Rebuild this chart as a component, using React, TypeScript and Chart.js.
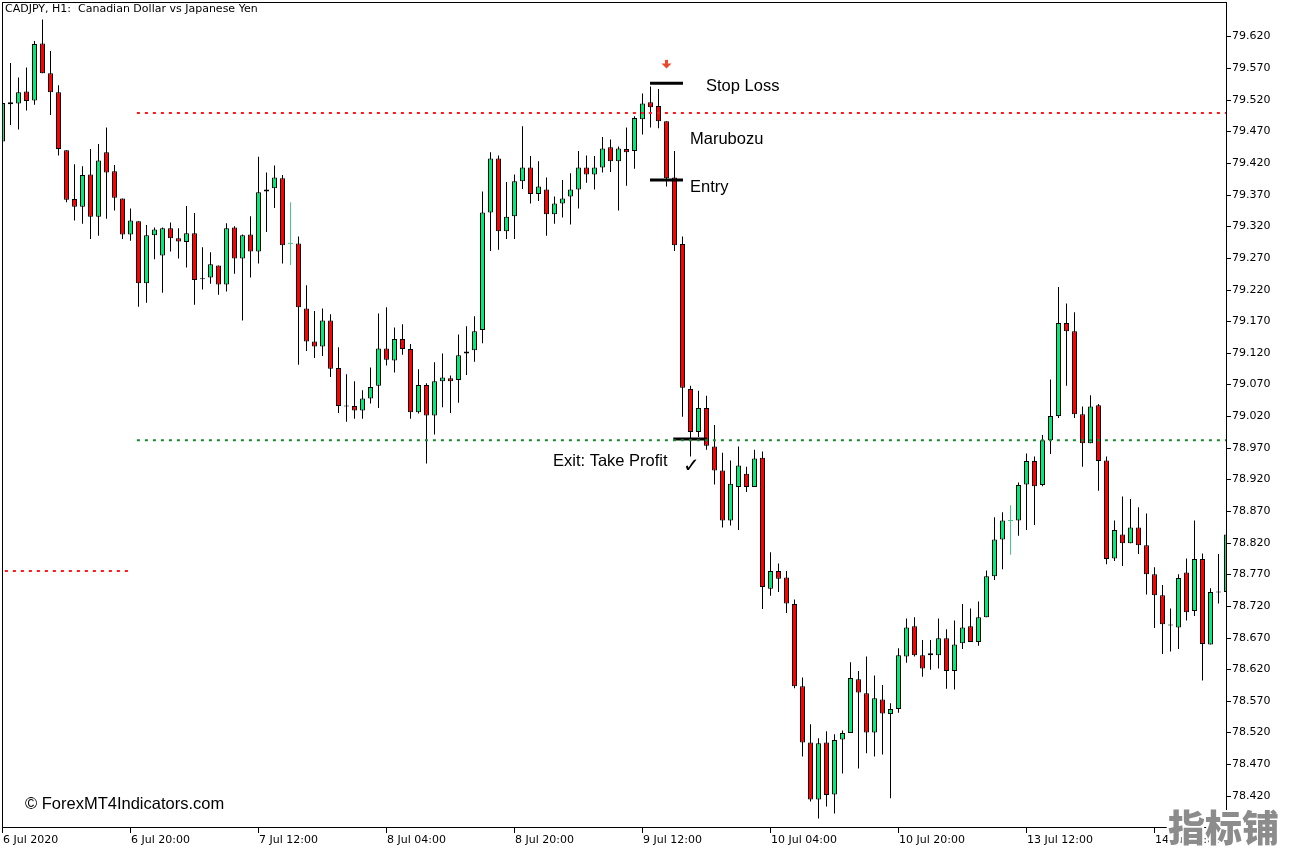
import React, { useEffect, useRef } from "react";
import { Chart, registerables } from "chart.js";

Chart.register(...registerables);

// ---- data (CADJPY H1 candles) ----
const OPEN = [
  79.454, 79.516, 79.514, 79.533, 79.519, 79.609, 79.562, 79.532, 79.440, 79.363,
  79.351, 79.402, 79.335, 79.437, 79.407, 79.364, 79.307, 79.328, 79.230, 79.306,
  79.274, 79.317, 79.301, 79.295, 79.309, 79.237, 79.239, 79.258, 79.228, 79.318,
  79.269, 79.307, 79.280, 79.375, 79.380, 79.396, 79.293, 79.293, 79.190, 79.138,
  79.130, 79.171, 79.096, 79.036, 79.036, 79.029, 79.048, 79.068, 79.127, 79.108,
  79.142, 79.126, 79.026, 79.069, 79.021, 79.075, 79.080, 79.077, 79.119, 79.124,
  79.156, 79.342, 79.427, 79.312, 79.336, 79.391, 79.413, 79.371, 79.378, 79.339,
  79.356, 79.367, 79.378, 79.413, 79.402, 79.413, 79.445, 79.423, 79.442, 79.439,
  79.489, 79.516, 79.510, 79.486, 79.397, 79.292, 79.063, 78.995, 79.033, 78.972,
  78.934, 78.855, 78.908, 78.929, 78.908, 78.954, 78.747, 78.775, 78.765, 78.723,
  78.593, 78.504, 78.414, 78.504, 78.422, 78.509, 78.519, 78.604, 78.582, 78.520,
  78.572, 78.549, 78.557, 78.640, 78.688, 78.642, 78.645, 78.642, 78.669, 78.617,
  78.661, 78.688, 78.663, 78.702, 78.767, 78.825, 78.855, 78.855, 78.912, 78.949,
  78.911, 78.982, 79.020, 79.167, 79.154, 79.023, 78.977, 79.037, 78.950, 78.795,
  78.833, 78.819, 78.844, 78.816, 78.770, 78.737, 78.690, 78.686, 78.773, 78.712,
  78.794, 78.659, 78.742, 78.742,
];
const HIGH = [
  79.519, 79.578, 79.555, 79.571, 79.613, 79.647, 79.597, 79.543, 79.440, 79.418,
  79.415, 79.442, 79.450, 79.476, 79.417, 79.364, 79.348, 79.328, 79.322, 79.318,
  79.318, 79.326, 79.317, 79.352, 79.341, 79.287, 79.279, 79.258, 79.325, 79.320,
  79.307, 79.336, 79.430, 79.405, 79.416, 79.401, 79.358, 79.304, 79.227, 79.186,
  79.190, 79.181, 79.129, 79.086, 79.075, 79.061, 79.097, 79.182, 79.192, 79.160,
  79.165, 79.134, 79.094, 79.072, 79.105, 79.119, 79.084, 79.149, 79.162, 79.178,
  79.375, 79.437, 79.432, 79.390, 79.402, 79.478, 79.431, 79.423, 79.397, 79.367,
  79.393, 79.404, 79.439, 79.432, 79.431, 79.461, 79.457, 79.446, 79.476, 79.494,
  79.530, 79.541, 79.537, 79.486, 79.439, 79.304, 79.068, 79.060, 79.052, 79.006,
  78.962, 78.950, 78.972, 78.940, 78.967, 78.964, 78.805, 78.787, 78.775, 78.730,
  78.607, 78.533, 78.511, 78.522, 78.517, 78.523, 78.631, 78.617, 78.640, 78.610,
  78.595, 78.566, 78.653, 78.700, 78.702, 78.666, 78.666, 78.700, 78.683, 78.697,
  78.723, 78.716, 78.727, 78.776, 78.860, 78.868, 78.879, 78.915, 78.961, 78.956,
  78.990, 79.078, 79.224, 79.198, 79.184, 79.035, 79.053, 79.039, 78.956, 78.855,
  78.893, 78.889, 78.876, 78.866, 78.781, 78.753, 78.716, 78.770, 78.795, 78.855,
  78.803, 78.748, 78.802, 78.836,
];
const LOW = [
  79.452, 79.480, 79.473, 79.503, 79.512, 79.562, 79.496, 79.432, 79.358, 79.329,
  79.324, 79.300, 79.305, 79.332, 79.345, 79.300, 79.297, 79.193, 79.199, 79.268,
  79.215, 79.280, 79.269, 79.255, 79.196, 79.220, 79.229, 79.212, 79.217, 79.245,
  79.171, 79.239, 79.261, 79.311, 79.349, 79.261, 79.259, 79.101, 79.123, 79.112,
  79.115, 79.082, 79.025, 79.011, 79.016, 79.016, 79.040, 79.033, 79.100, 79.089,
  79.117, 79.016, 79.024, 78.945, 78.991, 79.034, 79.025, 79.041, 79.085, 79.106,
  79.135, 79.281, 79.283, 79.300, 79.300, 79.379, 79.356, 79.360, 79.305, 79.324,
  79.334, 79.323, 79.348, 79.389, 79.378, 79.405, 79.406, 79.345, 79.384, 79.411,
  79.465, 79.476, 79.475, 79.383, 79.281, 79.019, 78.956, 78.987, 78.967, 78.912,
  78.844, 78.847, 78.840, 78.900, 78.908, 78.715, 78.736, 78.742, 78.709, 78.590,
  78.482, 78.411, 78.384, 78.403, 78.392, 78.455, 78.519, 78.463, 78.487, 78.482,
  78.485, 78.416, 78.551, 78.630, 78.640, 78.608, 78.619, 78.621, 78.589, 78.588,
  78.652, 78.663, 78.657, 78.702, 78.761, 78.778, 78.801, 78.831, 78.840, 78.848,
  78.909, 78.960, 79.017, 79.068, 79.017, 78.940, 78.977, 78.902, 78.786, 78.791,
  78.783, 78.819, 78.802, 78.738, 78.685, 78.644, 78.648, 78.652, 78.697, 78.704,
  78.602, 78.659, 78.724, 78.738,
];
const CLOSE = [
  79.515, 79.513, 79.532, 79.518, 79.608, 79.562, 79.532, 79.442, 79.362, 79.351,
  79.401, 79.335, 79.424, 79.405, 79.365, 79.307, 79.329, 79.230, 79.306, 79.315,
  79.317, 79.301, 79.296, 79.309, 79.235, 79.237, 79.260, 79.228, 79.317, 79.269,
  79.306, 79.280, 79.374, 79.378, 79.397, 79.290, 79.293, 79.192, 79.138, 79.130,
  79.171, 79.095, 79.036, 79.036, 79.029, 79.048, 79.066, 79.127, 79.109, 79.142,
  79.126, 79.026, 79.069, 79.021, 79.075, 79.081, 79.075, 79.116, 79.122, 79.154,
  79.342, 79.427, 79.312, 79.335, 79.391, 79.413, 79.371, 79.383, 79.339, 79.356,
  79.364, 79.378, 79.413, 79.402, 79.413, 79.443, 79.423, 79.443, 79.437, 79.491,
  79.514, 79.508, 79.486, 79.396, 79.290, 79.065, 78.995, 79.033, 78.973, 78.934,
  78.855, 78.913, 78.942, 78.908, 78.953, 78.750, 78.775, 78.763, 78.724, 78.593,
  78.504, 78.414, 78.503, 78.421, 78.508, 78.519, 78.606, 78.583, 78.520, 78.574,
  78.550, 78.557, 78.642, 78.686, 78.642, 78.621, 78.642, 78.669, 78.617, 78.659,
  78.686, 78.663, 78.702, 78.767, 78.825, 78.855, 78.855, 78.911, 78.949, 78.909,
  78.982, 79.020, 79.167, 79.154, 79.023, 78.977, 79.035, 78.949, 78.794, 78.840,
  78.819, 78.844, 78.816, 78.770, 78.737, 78.691, 78.690, 78.764, 78.710, 78.794,
  78.660, 78.742, 78.742, 78.833,
];
// bars drawn in the pale colour (no outline)
const PALE_BARS = [36, 126];

const PRICE_TICKS = [
  "79.620", "79.570", "79.520", "79.470", "79.420", "79.370", "79.320", "79.270",
  "79.220", "79.170", "79.120", "79.070", "79.020", "78.970", "78.920", "78.870",
  "78.820", "78.770", "78.720", "78.670", "78.620", "78.570", "78.520", "78.470",
  "78.420",
];
const TIME_TICK_INDEX = [0, 16, 32, 48, 64, 80, 96, 112, 128, 144];
const TIME_LABELS = [
  "6 Jul 2020", "6 Jul 20:00", "7 Jul 12:00", "8 Jul 04:00", "8 Jul 20:00",
  "9 Jul 12:00", "10 Jul 04:00", "10 Jul 20:00", "13 Jul 12:00", "14 Jul 04:00",
];

// dotted levels
const LEVEL_PRICES = [79.499, 78.982, 78.775];
const LEVEL_FROM = [16.8, 16.8, 0.3];
const LEVEL_TO = [153.5, 153.5, 16.06];
const LEVEL_COLORS = ["#ff1a1a", "#138a2e", "#ff1a1a"];

// trade marks: stop loss, entry, take profit
const TRADE_PRICES = [79.546, 79.393, 78.984];
const TRADE_FROM = [80.94, 80.94, 83.85];
const TRADE_TO = [85.06, 85.06, 88.06];

const SIGNAL_INDEX = 83;
const SIGNAL_PRICE = 79.583;

const X_MIN = -0.0625;
const X_MAX = 152.9375;
const Y_MIN = 78.369;
const Y_MAX = 79.6745;

const GREEN = "#00ea78";
const RED = "#ff0000";
const PALE = "#4cc488";
const DOJI_HALF = 0.0008;

const mt4Plugin = {
  id: "mt4Decor",
  beforeDraw(chart: any) {
    const ctx = chart.ctx;
    ctx.save();
    ctx.fillStyle = "#ffffff";
    ctx.fillRect(0, 0, chart.width, chart.height);
    ctx.restore();
  },
  afterDraw(chart: any) {
    const ctx: CanvasRenderingContext2D = chart.ctx;
    const a = chart.chartArea;
    const xs = chart.scales.x;
    const ys = chart.scales.y;
    ctx.save();

    // frame
    ctx.strokeStyle = "#000";
    ctx.lineWidth = 1;
    ctx.strokeRect(a.left + 0.5, a.top + 0.5, a.right - a.left, a.bottom - a.top - 1);

    // price axis
    ctx.font = '11px "DejaVu Sans"';
    ctx.fillStyle = "#000";
    ctx.textAlign = "left";
    ctx.textBaseline = "middle";
    PRICE_TICKS.forEach((t) => {
      const py = Math.round(ys.getPixelForValue(parseFloat(t))) + 0.5;
      ctx.beginPath();
      ctx.moveTo(a.right + 1, py);
      ctx.lineTo(a.right + 5, py);
      ctx.stroke();
      ctx.fillText(t, a.right + 6, py);
    });

    // time axis
    ctx.textBaseline = "alphabetic";
    TIME_TICK_INDEX.forEach((idx, k) => {
      const px = Math.floor(xs.getPixelForValue(idx)) + 0.5;
      ctx.beginPath();
      ctx.moveTo(px, a.bottom - 1);
      ctx.lineTo(px, a.bottom + 5);
      ctx.stroke();
      ctx.fillText(TIME_LABELS[k], px + 0.5, 843);
    });

    // title
    ctx.fillText("CADJPY, H1:  Canadian Dollar vs Japanese Yen", 5, 12);

    // signal arrow
    const ax = xs.getPixelForValue(SIGNAL_INDEX);
    const ay = ys.getPixelForValue(SIGNAL_PRICE);
    ctx.fillStyle = "#e8492c";
    ctx.fillRect(ax - 1.5, ay, 3, 4);
    ctx.beginPath();
    ctx.moveTo(ax - 5, ay + 3.5);
    ctx.lineTo(ax + 5, ay + 3.5);
    ctx.lineTo(ax, ay + 8.5);
    ctx.closePath();
    ctx.fill();

    // annotations
    ctx.fillStyle = "#000";
    ctx.font = '16.5px "Liberation Sans"';
    ctx.fillText("Stop Loss", 706, 91);
    ctx.fillText("Marubozu", 690, 144);
    ctx.fillText("Entry", 690, 192);
    ctx.fillText("Exit: Take Profit", 553, 466);
    ctx.fillText("\u00A9 ForexMT4Indicators.com", 25, 809);
    ctx.font = '20px "DejaVu Sans"';
    ctx.fillText("\u2713", 683, 472);

    // watermark
    ctx.font = '900 37px "Noto Sans CJK SC"';
    ctx.textBaseline = "middle";
    ctx.lineJoin = "round";
    ctx.strokeStyle = "#ffffff";
    ctx.lineWidth = 4;
    ctx.strokeText("指标铺", 1168, 828);
    ctx.fillStyle = "#8c8c8c";
    ctx.fillText("指标铺", 1168, 828);

    ctx.restore();
  },
};

export default function App() {
  const ref = useRef<HTMLCanvasElement | null>(null);

  useEffect(() => {
    document.body.style.margin = "0";
    const isPale = (i: number) => PALE_BARS.includes(i);
    const bodyColor = (i: number) => {
      if (isPale(i)) return PALE;
      if (CLOSE[i] > OPEN[i]) return GREEN;
      if (CLOSE[i] < OPEN[i]) return RED;
      return "#000";
    };
    const bodies = OPEN.map((o, i) => ({
      x: i,
      y: o === CLOSE[i] ? [o - DOJI_HALF, o + DOJI_HALF] : [o, CLOSE[i]],
    }));
    const wicks = OPEN.map((_, i) => ({ x: i, y: [LOW[i], HIGH[i]] }));

    const levelSets = LEVEL_PRICES.map((p, k) => ({
      type: "line" as const,
      data: [
        { x: LEVEL_FROM[k], y: p },
        { x: LEVEL_TO[k], y: p },
      ],
      borderColor: LEVEL_COLORS[k],
      borderWidth: 2,
      borderDash: [3, 5],
      pointRadius: 0,
      fill: false,
      order: 0,
      clip: 0,
    }));
    const tradeSets = TRADE_PRICES.map((p, k) => ({
      type: "line" as const,
      data: [
        { x: TRADE_FROM[k], y: p },
        { x: TRADE_TO[k], y: p },
      ],
      borderColor: "#000",
      borderWidth: 3,
      pointRadius: 0,
      fill: false,
      order: 0,
      clip: 0,
    }));

    const chart = new Chart(ref.current as HTMLCanvasElement, {
      type: "bar",
      data: {
        datasets: [
          ...levelSets,
          ...tradeSets,
          {
            type: "bar",
            data: bodies as any,
            backgroundColor: OPEN.map((_, i) => bodyColor(i)),
            borderColor: OPEN.map((_, i) => (isPale(i) ? PALE : "#000")),
            borderWidth: OPEN.map((_, i) => (isPale(i) ? 0 : 1)),
            borderSkipped: false,
            barThickness: 5,
            maxBarThickness: 5,
            grouped: false,
            inflateAmount: 0,
            order: 1,
            clip: 0,
          } as any,
          {
            type: "bar",
            data: wicks as any,
            backgroundColor: OPEN.map((_, i) => (isPale(i) ? PALE : "#000")),
            borderWidth: 0,
            barThickness: 1,
            maxBarThickness: 1,
            grouped: false,
            inflateAmount: 0,
            order: 2,
            clip: 0,
          } as any,
        ],
      },
      options: {
        responsive: false,
        devicePixelRatio: 1,
        animation: false,
        events: [],
        layout: { padding: { left: 2, top: 2, right: 64, bottom: 24 } },
        plugins: { legend: { display: false }, tooltip: { enabled: false } },
        scales: {
          x: { type: "linear", min: X_MIN, max: X_MAX, offset: false, display: false },
          y: { type: "linear", min: Y_MIN, max: Y_MAX, offset: false, display: false },
        },
      } as any,
      plugins: [mt4Plugin],
    });
    return () => chart.destroy();
  }, []);

  return (
    <div style={{ position: "fixed", left: 0, top: 0, width: 1290, height: 852, background: "#fff" }}>
      <canvas ref={ref} width={1290} height={852} style={{ display: "block", width: 1290, height: 852 }} />
    </div>
  );
}
